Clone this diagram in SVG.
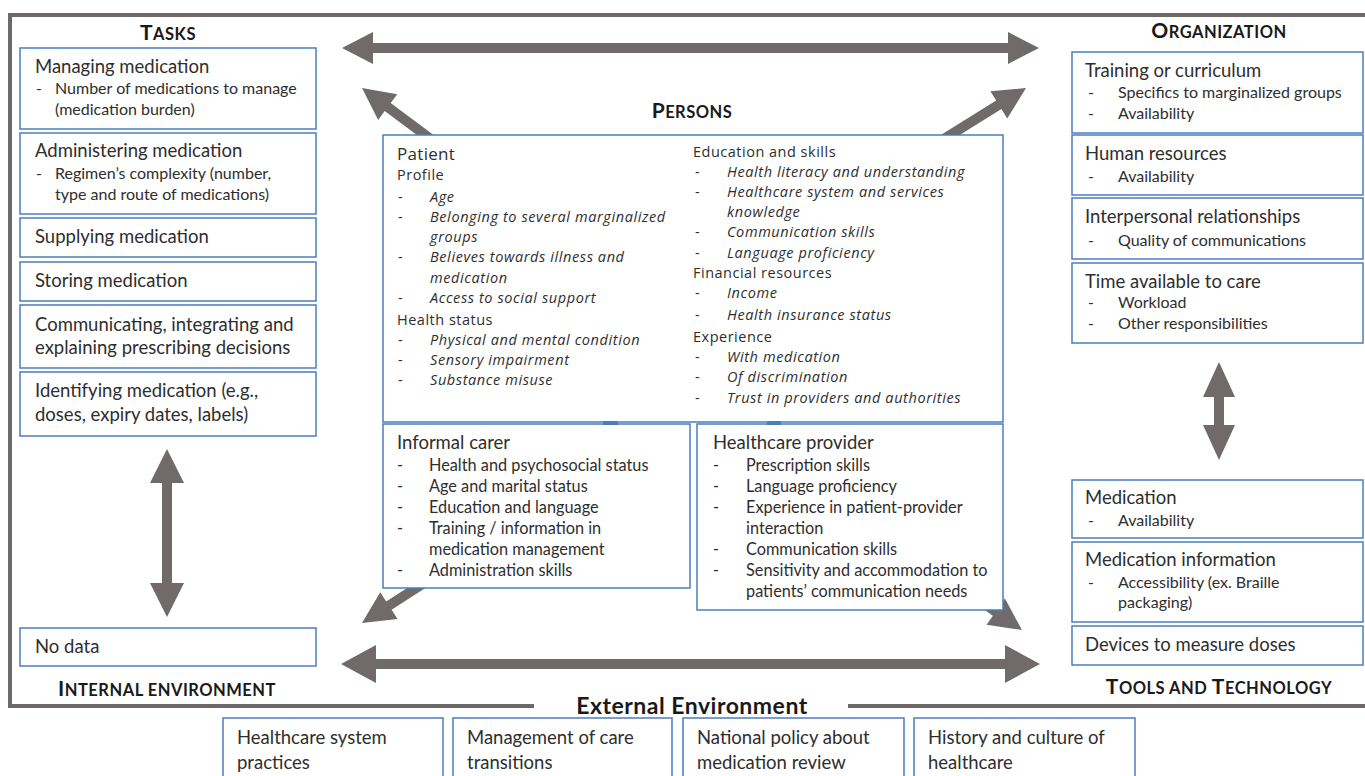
<svg xmlns="http://www.w3.org/2000/svg" width="1365" height="776" viewBox="0 0 1365 776">
<defs>
<style>
.bg{fill:#ffffff}
.frame{fill:none;stroke:#6e6868;stroke-width:4}
.box{fill:#ffffff;stroke:#4a7ebb;stroke-width:1.5}
.arrow{fill:#706a6a}
.tab{fill:#4a7ebb}
.t{font-family:Lato,"Liberation Sans",sans-serif;fill:#2e2e2e}
.h{font-size:18.5px}
.s{font-size:16px}
.c{font-size:16.3px}
.e{font-size:18.5px}
.p{font-family:"Open Sans","Noto Sans",sans-serif;fill:#2e2e2e;font-size:14.5px;letter-spacing:0.5px}
.pt{font-family:"Open Sans","Noto Sans",sans-serif;fill:#2e2e2e;font-size:17px;letter-spacing:0.3px}
.pi{font-family:"Open Sans","Noto Sans",sans-serif;fill:#2e2e2e;font-size:14.5px;font-style:italic;letter-spacing:0.6px}
.hd{font-family:Lato,"Liberation Sans",sans-serif;font-weight:bold;fill:#1a1a1a;text-anchor:middle;letter-spacing:0.5px}
.big{font-size:21px}
.sm{font-size:16.5px}
.ext{font-size:23px}
</style>
</defs>
<rect class="bg" x="0" y="0" width="1365" height="776"/>
<path class="frame" d="M 534 706 H 10 V 15 H 1370 M 848 706 H 1370"/>

<g id="connectors">
  <polygon class="arrow" points="342,48 373,32 373,43 1008,43 1008,32 1039,48 1008,64 1008,53 373,53 373,64"/>
  <polygon class="arrow" points="341,664 376,645 376,659 1005,659 1005,645 1040,664 1005,683 1005,669 376,669 376,683"/>
  <polygon class="arrow" points="167,449 184,483 172,483 172,583 184,583 167,617 150,583 162,583 162,483 150,483"/>
  <polygon class="arrow" points="1219,362 1235,397 1224,397 1224,425 1235,425 1219,460 1203,425 1214,425 1214,397 1203,397"/>
  <polygon class="arrow" transform="translate(362,88) rotate(36.6)" points="0,0 32,-16 32,-5 90,-5 90,5 32,5 32,16"/>
  <polygon class="arrow" transform="translate(1026,88) rotate(148.2)" points="0,0 32,-16 32,-5 100,-5 100,5 32,5 32,16"/>
  <polygon class="arrow" transform="translate(362,623) rotate(-32.8)" points="0,0 32,-16 32,-5 80,-5 80,5 32,5 32,16"/>
  <polygon class="arrow" transform="translate(1022,630) rotate(-145.1)" points="0,0 32,-16 32,-5 75,-5 75,5 32,5 32,16"/>
</g>

<text class="hd" x="168" y="40"><tspan class="big">T</tspan><tspan class="sm">ASKS</tspan></text>
<text class="hd" x="1219" y="38"><tspan class="big">O</tspan><tspan class="sm">RGANIZATION</tspan></text>
<text class="hd" x="692" y="118"><tspan class="big">P</tspan><tspan class="sm">ERSONS</tspan></text>
<text class="hd" x="167" y="696"><tspan class="big">I</tspan><tspan class="sm">NTERNAL ENVIRONMENT</tspan></text>
<text class="hd" x="1219" y="694"><tspan class="big">T</tspan><tspan class="sm">OOLS AND </tspan><tspan class="big">T</tspan><tspan class="sm">ECHNOLOGY</tspan></text>
<text class="hd ext" x="692" y="714">External Environment</text>

<g id="task-managing">
  <rect class="box" x="20" y="48" width="296" height="81"/>
  <text class="t h" x="35" y="73">Managing medication</text>
  <text class="t s" x="36" y="94">-</text>
  <text class="t s" x="55" y="94">Number of medications to manage</text>
  <text class="t s" x="55" y="115">(medication burden)</text>
</g>
<g id="task-administering">
  <rect class="box" x="20" y="133" width="296" height="81"/>
  <text class="t h" x="35" y="157">Administering medication</text>
  <text class="t s" x="36" y="179">-</text>
  <text class="t s" x="55" y="179">Regimen’s complexity (number,</text>
  <text class="t s" x="55" y="200">type and route of medications)</text>
</g>
<g id="task-supplying">
  <rect class="box" x="20" y="218" width="296" height="39"/>
  <text class="t h" x="35" y="243">Supplying medication</text>
</g>
<g id="task-storing">
  <rect class="box" x="20" y="262" width="296" height="39"/>
  <text class="t h" x="35" y="287">Storing medication</text>
</g>
<g id="task-communicating">
  <rect class="box" x="20" y="305" width="296" height="63"/>
  <text class="t h" x="35" y="331">Communicating, integrating and</text>
  <text class="t h" x="35" y="354">explaining prescribing decisions</text>
</g>
<g id="task-identifying">
  <rect class="box" x="20" y="372" width="296" height="64"/>
  <text class="t h" x="35" y="397">Identifying medication (e.g.,</text>
  <text class="t h" x="35" y="421">doses, expiry dates, labels)</text>
</g>
<g id="internal-nodata">
  <rect class="box" x="20" y="628" width="296" height="38"/>
  <text class="t h" x="35" y="653">No data</text>
</g>

<g id="org-training">
  <rect class="box" x="1072" y="52" width="291" height="81"/>
  <text class="t h" x="1085" y="77">Training or curriculum</text>
  <text class="t s" x="1088" y="98">-</text>
  <text class="t s" x="1118" y="98">Specifics to marginalized groups</text>
  <text class="t s" x="1088" y="119">-</text>
  <text class="t s" x="1118" y="119">Availability</text>
</g>
<g id="org-human">
  <rect class="box" x="1072" y="135" width="291" height="60"/>
  <text class="t h" x="1085" y="160">Human resources</text>
  <text class="t s" x="1088" y="182">-</text>
  <text class="t s" x="1118" y="182">Availability</text>
</g>
<g id="org-interpersonal">
  <rect class="box" x="1072" y="198" width="291" height="61"/>
  <text class="t h" x="1085" y="223">Interpersonal relationships</text>
  <text class="t s" x="1088" y="246">-</text>
  <text class="t s" x="1118" y="246">Quality of communications</text>
</g>
<g id="org-time">
  <rect class="box" x="1072" y="263" width="291" height="80"/>
  <text class="t h" x="1085" y="288">Time available to care</text>
  <text class="t s" x="1088" y="308">-</text>
  <text class="t s" x="1118" y="308">Workload</text>
  <text class="t s" x="1088" y="329">-</text>
  <text class="t s" x="1118" y="329">Other responsibilities</text>
</g>

<g id="tool-medication">
  <rect class="box" x="1072" y="480" width="291" height="58"/>
  <text class="t h" x="1085" y="504">Medication</text>
  <text class="t s" x="1088" y="526">-</text>
  <text class="t s" x="1118" y="526">Availability</text>
</g>
<g id="tool-information">
  <rect class="box" x="1072" y="542" width="291" height="80"/>
  <text class="t h" x="1085" y="566">Medication information</text>
  <text class="t s" x="1088" y="588">-</text>
  <text class="t s" x="1118" y="588">Accessibility (ex. Braille</text>
  <text class="t s" x="1118" y="608">packaging)</text>
</g>
<g id="tool-devices">
  <rect class="box" x="1072" y="626" width="291" height="39"/>
  <text class="t h" x="1085" y="651">Devices to measure doses</text>
</g>

<g id="person-patient">
  <rect class="box" x="383" y="135" width="620" height="287"/>
  <text class="pt" x="397" y="160">Patient</text>
  <text class="p" x="397" y="180">Profile</text>
  <text class="p" x="398" y="202">-</text><text class="pi" x="430" y="202">Age</text>
  <text class="p" x="398" y="222">-</text><text class="pi" x="430" y="222">Belonging to several marginalized</text>
  <text class="pi" x="430" y="242">groups</text>
  <text class="p" x="398" y="262">-</text><text class="pi" x="430" y="262">Believes towards illness and</text>
  <text class="pi" x="430" y="283">medication</text>
  <text class="p" x="398" y="303">-</text><text class="pi" x="430" y="303">Access to social support</text>
  <text class="p" x="397" y="325">Health status</text>
  <text class="p" x="398" y="345">-</text><text class="pi" x="430" y="345">Physical and mental condition</text>
  <text class="p" x="398" y="365">-</text><text class="pi" x="430" y="365">Sensory impairment</text>
  <text class="p" x="398" y="385">-</text><text class="pi" x="430" y="385">Substance misuse</text>
  <text class="p" x="693" y="157">Education and skills</text>
  <text class="p" x="695" y="177">-</text><text class="pi" x="727" y="177">Health literacy and understanding</text>
  <text class="p" x="695" y="197">-</text><text class="pi" x="727" y="197">Healthcare system and services</text>
  <text class="pi" x="727" y="217">knowledge</text>
  <text class="p" x="695" y="237">-</text><text class="pi" x="727" y="237">Communication skills</text>
  <text class="p" x="695" y="258">-</text><text class="pi" x="727" y="258">Language proficiency</text>
  <text class="p" x="693" y="278">Financial resources</text>
  <text class="p" x="695" y="298">-</text><text class="pi" x="727" y="298">Income</text>
  <text class="p" x="695" y="320">-</text><text class="pi" x="727" y="320">Health insurance status</text>
  <text class="p" x="693" y="342">Experience</text>
  <text class="p" x="695" y="362">-</text><text class="pi" x="727" y="362">With medication</text>
  <text class="p" x="695" y="382">-</text><text class="pi" x="727" y="382">Of discrimination</text>
  <text class="p" x="695" y="403">-</text><text class="pi" x="727" y="403">Trust in providers and authorities</text>
</g>

<g id="person-carer">
  <rect class="box" x="383" y="424" width="307" height="164"/>
  <text class="t h" x="397" y="449">Informal carer</text>
  <text class="t c" x="397" y="471">-</text><text class="t c" x="429" y="471">Health and psychosocial status</text>
  <text class="t c" x="397" y="492">-</text><text class="t c" x="429" y="492">Age and marital status</text>
  <text class="t c" x="397" y="513">-</text><text class="t c" x="429" y="513">Education and language</text>
  <text class="t c" x="397" y="534">-</text><text class="t c" x="429" y="534">Training / information in</text>
  <text class="t c" x="429" y="555">medication management</text>
  <text class="t c" x="397" y="576">-</text><text class="t c" x="429" y="576">Administration skills</text>
</g>

<g id="person-provider">
  <rect class="box" x="697" y="424" width="306" height="186"/>
  <text class="t h" x="713" y="449">Healthcare provider</text>
  <text class="t c" x="713" y="471">-</text><text class="t c" x="746" y="471">Prescription skills</text>
  <text class="t c" x="713" y="492">-</text><text class="t c" x="746" y="492">Language proficiency</text>
  <text class="t c" x="713" y="513">-</text><text class="t c" x="746" y="513">Experience in patient-provider</text>
  <text class="t c" x="746" y="534">interaction</text>
  <text class="t c" x="713" y="555">-</text><text class="t c" x="746" y="555">Communication skills</text>
  <text class="t c" x="713" y="576">-</text><text class="t c" x="746" y="576">Sensitivity and accommodation to</text>
  <text class="t c" x="746" y="597">patients’ communication needs</text>
</g>

<g id="tabs">
  <rect class="tab" x="603" y="421" width="15" height="4"/>
  <rect class="tab" x="767" y="421" width="14" height="4"/>
</g>

<g id="ext-practices">
  <rect class="box" x="223" y="718" width="220" height="80"/>
  <text class="t e" x="237" y="744">Healthcare system</text>
  <text class="t e" x="237" y="769">practices</text>
</g>
<g id="ext-transitions">
  <rect class="box" x="453" y="718" width="219" height="80"/>
  <text class="t e" x="467" y="744">Management of care</text>
  <text class="t e" x="467" y="769">transitions</text>
</g>
<g id="ext-policy">
  <rect class="box" x="683" y="718" width="221" height="80"/>
  <text class="t e" x="697" y="744">National policy about</text>
  <text class="t e" x="697" y="769">medication review</text>
</g>
<g id="ext-history">
  <rect class="box" x="914" y="718" width="221" height="80"/>
  <text class="t e" x="928" y="744">History and culture of</text>
  <text class="t e" x="928" y="769">healthcare</text>
</g>
</svg>
